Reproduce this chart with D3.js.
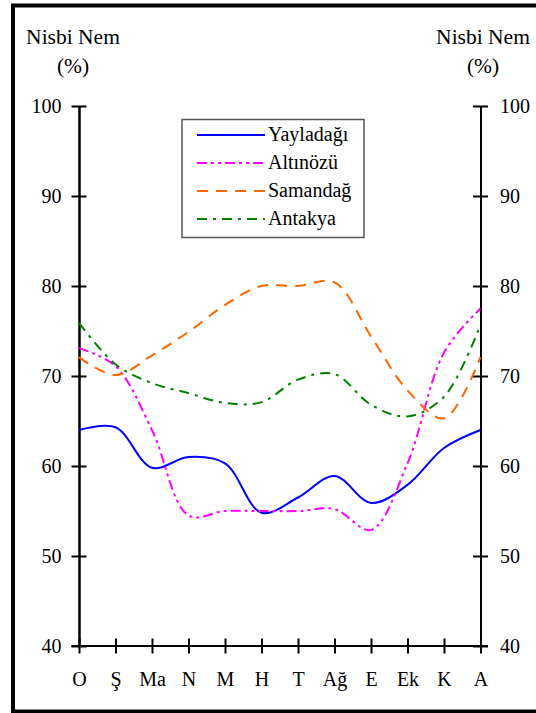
<!DOCTYPE html>
<html>
<head>
<meta charset="utf-8">
<script src="https://cdn.jsdelivr.net/npm/d3@7"></script>
<style>
  body { margin: 0; background: #fff; }
  svg text { font-family: "Liberation Serif", "Times New Roman", Times, "DejaVu Serif", serif; fill: #000; }
</style>
</head>
<body>
<svg id="chart" width="536" height="713"></svg>
<script>
var months = ['O', 'Ş', 'Ma', 'N', 'M', 'H', 'T', 'Ağ', 'E', 'Ek', 'K', 'A'];
var yTicks = [40, 50, 60, 70, 80, 90, 100];

// relative humidity (%) per station
var yayladagi = [64.0, 64.3, 59.8, 61.0, 60.3, 54.8, 56.5, 58.9, 55.9, 57.9, 62.0, 64.0];
var altinozu  = [73.1, 71.1, 64.0, 54.5, 55.0, 55.0, 55.0, 55.2, 52.9, 60.3, 72.6, 77.5];
var samandag  = [72.1, 70.1, 72.3, 74.9, 77.9, 80.0, 80.0, 80.4, 74.4, 68.4, 65.3, 72.1];
var antakya   = [75.9, 71.3, 69.2, 68.1, 67.0, 67.1, 69.6, 70.2, 66.8, 65.5, 67.7, 75.7];

var series = [
  { name: 'Yayladağı', values: yayladagi, color: '#0000ff', dash: null },
  { name: 'Altınözü', values: altinozu, color: '#ff00ff', dash: '10,4,3,4,3,4' },
  { name: 'Samandağ', values: samandag, color: '#ff6600', dash: '11,8' },
  { name: 'Antakya', values: antakya, color: '#008000', dash: '10,6,3,6' }
];

var serif = '"Liberation Serif", "Times New Roman", Times, "DejaVu Serif", serif';
var svg = d3.select('#chart');

// outer frame (right edge runs off the picture)
svg.append('rect')
  .attr('x', 13).attr('y', 5.5)
  .attr('width', 560).attr('height', 706)
  .attr('fill', 'none').attr('stroke', '#000').attr('stroke-width', 4);

var x = d3.scalePoint().domain(months).range([79, 480.5]);
var y = d3.scaleLinear().domain([40, 100]).range([646, 106]);

var tk = 7.5;

function styleAxis(g) {
  g.attr('font-family', serif);
  g.selectAll('path.domain').attr('stroke-width', 2);
  g.selectAll('.tick line').attr('stroke-width', 2);
  g.selectAll('text').attr('font-size', 20);
}

// left axis: labels + outer ticks, then inner ticks
svg.append('g').attr('transform', 'translate(79,0)')
  .call(d3.axisLeft(y).tickValues(yTicks).tickSize(tk).tickPadding(10).tickSizeOuter(0))
  .call(styleAxis);
svg.append('g').attr('transform', 'translate(79,0)')
  .call(d3.axisRight(y).tickValues(yTicks).tickSize(tk).tickFormat('').tickSizeOuter(0))
  .call(styleAxis);

// right axis
svg.append('g').attr('transform', 'translate(480.5,0)')
  .call(d3.axisRight(y).tickValues(yTicks).tickSize(tk).tickPadding(12).tickSizeOuter(0))
  .call(styleAxis);
svg.append('g').attr('transform', 'translate(480.5,0)')
  .call(d3.axisLeft(y).tickValues(yTicks).tickSize(tk).tickFormat('').tickSizeOuter(0))
  .call(styleAxis);

// bottom axis
var xAxisG = svg.append('g').attr('transform', 'translate(0,646)')
  .call(d3.axisBottom(x).tickSize(tk).tickSizeOuter(0))
  .call(styleAxis);
xAxisG.select('path.domain').attr('d', 'M71.5,0H488');
xAxisG.selectAll('.tick text').attr('y', 40).attr('dy', 0);
svg.append('g').attr('transform', 'translate(0,646)')
  .call(d3.axisTop(x).tickSize(tk).tickFormat('').tickSizeOuter(0))
  .call(styleAxis)
  .select('path.domain').remove();

// axis titles
[73, 483].forEach(function(cx) {
  svg.append('text').attr('x', cx).attr('y', 44)
    .attr('text-anchor', 'middle').attr('font-size', 21.5).text('Nisbi Nem');
  svg.append('text').attr('x', cx).attr('y', 73)
    .attr('text-anchor', 'middle').attr('font-size', 21.5).text('(%)');
});

// lines
var line = d3.line()
  .x(function(d, i) { return x(months[i]); })
  .y(function(d) { return y(d); })
  .curve(d3.curveCatmullRom.alpha(0.5));

svg.selectAll('path.series').data(series).enter().append('path')
  .attr('class', 'series')
  .attr('d', function(d) { return line(d.values); })
  .attr('fill', 'none')
  .attr('stroke', function(d) { return d.color; })
  .attr('stroke-width', 2)
  .attr('stroke-dasharray', function(d) { return d.dash; });

// legend
var lg = svg.append('g');
lg.append('rect')
  .attr('x', 182).attr('y', 119.5).attr('width', 182).attr('height', 118)
  .attr('fill', '#fff').attr('stroke', '#555').attr('stroke-width', 1.5);

var rows = lg.selectAll('g.row').data(series).enter().append('g')
  .attr('class', 'row')
  .attr('transform', function(d, i) { return 'translate(0,' + (135 + i * 28) + ')'; });
rows.append('line')
  .attr('x1', 197).attr('x2', 265)
  .attr('stroke', function(d) { return d.color; })
  .attr('stroke-width', 2)
  .attr('stroke-dasharray', function(d) { return d.dash; });
rows.append('text')
  .attr('x', 268).attr('y', 6)
  .attr('font-size', 20)
  .text(function(d) { return d.name; });
</script>
</body>
</html>
